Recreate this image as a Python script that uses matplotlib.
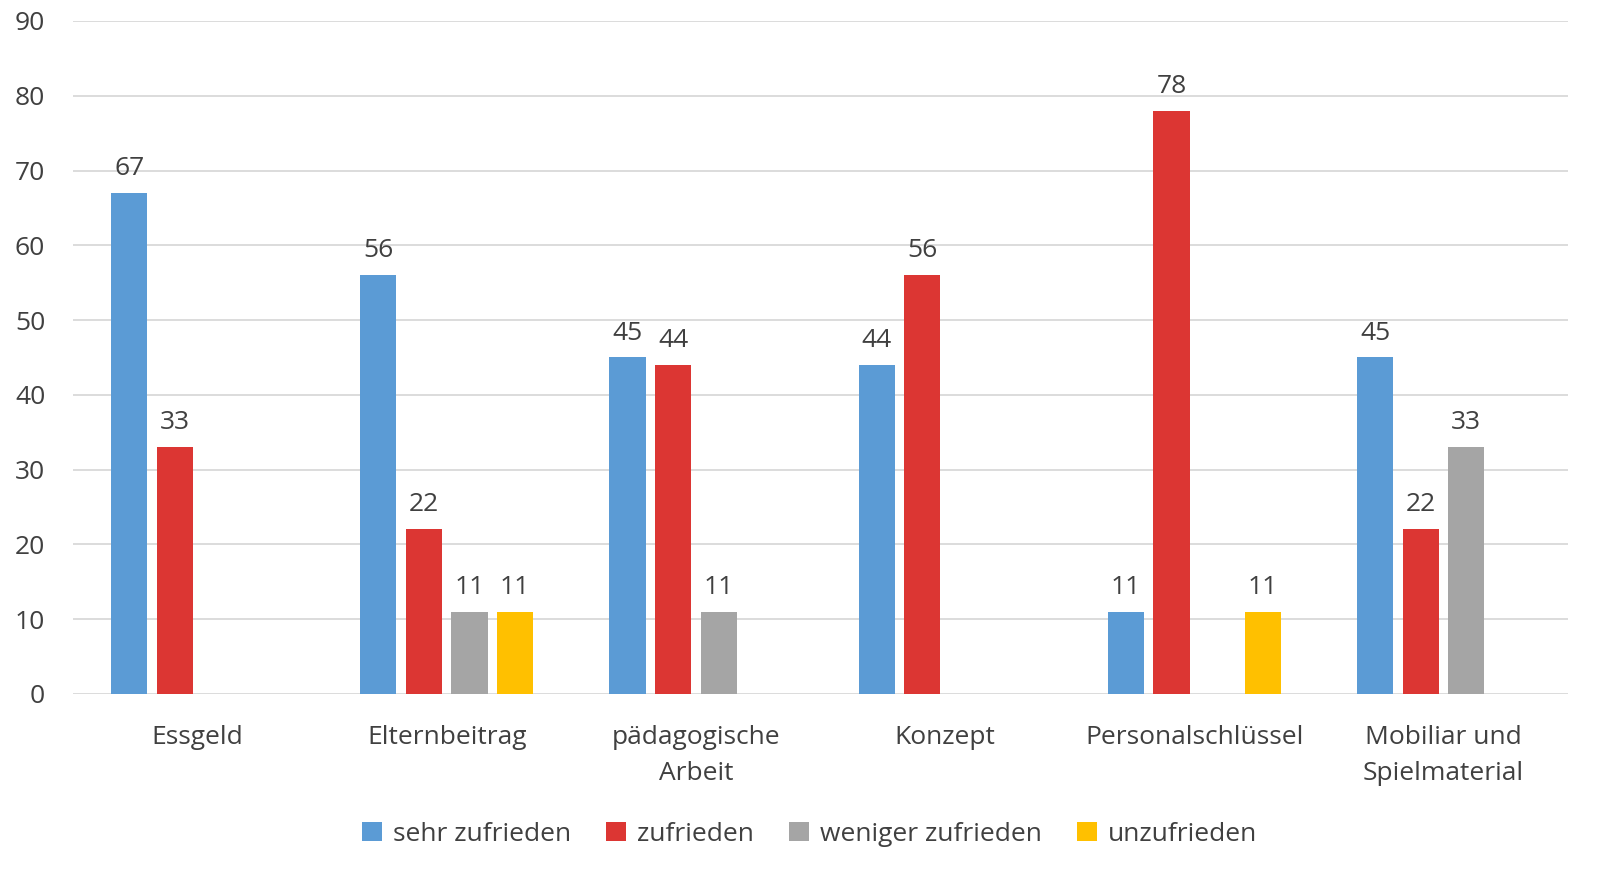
import numpy as np
import matplotlib.pyplot as plt

plt.rcParams['font.family'] = ['Open Sans', 'DejaVu Sans']

categories = ['Essgeld', 'Elternbeitrag', 'pädagogische\nArbeit', 'Konzept',
              'Personalschlüssel', 'Mobiliar und\nSpielmaterial']
series = ['sehr zufrieden', 'zufrieden', 'weniger zufrieden', 'unzufrieden']
sehr_zufrieden = [67, 56, 45, 44, 11, 45]
zufrieden = [33, 22, 44, 56, 78, 22]
weniger_zufrieden = [np.nan, 11, 11, np.nan, np.nan, 33]
unzufrieden = [np.nan, 11, np.nan, np.nan, 11, np.nan]
colors = ['#5B9BD5', '#DC3633', '#A5A5A5', '#FFC000']

values = [sehr_zufrieden, zufrieden, weniger_zufrieden, unzufrieden]

fig = plt.figure(figsize=(16.19, 8.75), dpi=100)
ax = fig.add_axes([0.0451, 0.2069, 0.9234, 0.7691])

x = np.arange(len(categories))
step = 0.183
width = 0.145
for i, (vals, name, c) in enumerate(zip(values, series, colors)):
    pos = x + (i - 1.5) * step
    bars = ax.bar(pos, vals, width, color=c, label=name, zorder=3)
    for p, v in zip(pos, vals):
        if not np.isnan(v):
            ax.text(p, v + 1.6, f'{v:g}', ha='center', va='bottom',
                    fontsize=19, color='#404040')

ax.set_xlim(-0.5, len(categories) - 0.5)
ax.set_ylim(0, 90)
ax.set_yticks(range(0, 91, 10))
ax.set_xticks(x)
ax.set_xticklabels(categories, fontsize=19, color='#404040', linespacing=1.6)
ax.tick_params(axis='y', labelsize=19, labelcolor='#404040', length=0, pad=20)
ax.tick_params(axis='x', length=0, pad=22)
ax.grid(axis='y', color='#D9D9D9', linewidth=1.3, zorder=0)
for s in ax.spines.values():
    s.set_visible(False)

fig.legend(loc='lower center', ncol=4, bbox_to_anchor=(0.5, 0.005),
           frameon=False, fontsize=19, handlelength=0.75, handleheight=0.75,
           handletextpad=0.4, columnspacing=1.35, labelcolor='#404040')

fig.savefig('out.png', dpi=100)
